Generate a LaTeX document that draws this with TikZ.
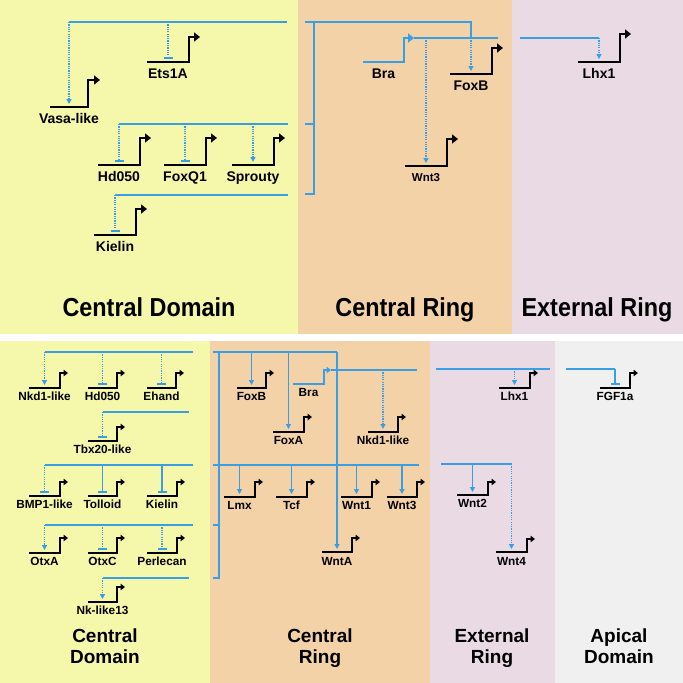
\documentclass[tikz,border=0pt]{standalone}
\usepackage{fontspec}
\usepackage{graphicx}
\setmainfont{Liberation Sans}
\usetikzlibrary{arrows.meta,calc}
\definecolor{bluC}{RGB}{58,158,228}
\definecolor{yelC}{RGB}{245,247,170}
\definecolor{oraC}{RGB}{244,210,168}
\definecolor{pinC}{RGB}{233,218,228}
\definecolor{graC}{RGB}{240,240,240}
\tikzset{
 bigG/.style={line width=2pt, black, -{Triangle[length=6pt,width=9pt]}},
 bigL/.style={anchor=base, inner sep=0pt, font=\bfseries\fontsize{14}{16}\selectfont},
 midG/.style={bigG},
 midL/.style={anchor=base, inner sep=0pt, font=\bfseries\fontsize{11.5}{13}\selectfont},
 smallG/.style={line width=1.6pt, black, -{Triangle[length=4.5pt,width=6.5pt]}},
 smallL/.style={anchor=base, inner sep=0pt, font=\bfseries\fontsize{11.8}{13}\selectfont},
 braBigG/.style={line width=2.3pt, bluC, -{Triangle[length=6pt,width=9pt]}},
 braBigL/.style={bigL},
 braSmallG/.style={line width=1.6pt, bluC, -{Triangle[length=4.5pt,width=6.5pt]}},
 braSmallL/.style={smallL},
 bl/.style={draw=bluC, line width=1.4pt},
 dotact/.style={draw=bluC, line width=1.3pt, dash pattern=on 1.2pt off 1.1pt, -{Triangle[length=5pt,width=5pt]}},
 dotrep/.style={draw=bluC, line width=1.3pt, dash pattern=on 1.2pt off 1.1pt, -{Bar[width=9pt,line width=1.6pt]}},
 solact/.style={draw=bluC, line width=1.3pt, -{Triangle[length=5pt,width=5pt]}},
 solrep/.style={draw=bluC, line width=1.3pt, -{Bar[width=9pt,line width=1.6pt]}},
 ttlA/.style={anchor=base, inner sep=0pt, font=\bfseries\fontsize{26}{30}\selectfont},
 ttlB/.style={anchor=base, inner sep=0pt, font=\bfseries\fontsize{19}{22}\selectfont},
}
% #1 name, #2 xl, #3 xr, #4 y, #5 promoter height, #6 kind, #7 label, #8 label offset, #9 arrow length
\newcommand\gene[9]{%
 \coordinate (#1-l) at (#2,#4);
 \coordinate (#1-r) at (#3,#4);
 \draw[#6G] (#1-l) -- (#1-r) -- ++(0,-#5) coordinate (#1-p) -- ++(#9,0) coordinate (#1-tip);
 \coordinate (#1-t) at ($(#1-l)!.5!(#1-r)+(0,-3)$);
 \node[#6L] (#1) at ($(#1-l)!.5!(#1-r)+(0,#8)$) {#7};
}
\begin{document}
\begin{tikzpicture}[x=1pt,y=-1pt]
\useasboundingbox (0,0) rectangle (683,683);
% backgrounds
\fill[white] (0,0) rectangle (683,683);
\fill[yelC] (0,0) rectangle (298,334);
\fill[oraC] (298,0) rectangle (512,334);
\fill[pinC] (512,0) rectangle (683,334);
\fill[yelC] (0,341) rectangle (210,683);
\fill[oraC] (210,341) rectangle (430,683);
\fill[pinC] (430,341) rectangle (555,683);
\fill[graC] (555,341) rectangle (683,683);

% ================= TOP PANEL =================
% Central domain
\coordinate (L1a) at (69,22); \coordinate (L1b) at (287,22);
\coordinate (L2a) at (119,124); \coordinate (L2b) at (288,124);
\coordinate (L3a) at (115,195); \coordinate (L3b) at (288,195);
\draw[bl] (L1a) -- (L1b);
\draw[bl] (L2a) -- (L2b);
\draw[bl] (L3a) -- (L3b);
\gene{Vasa}{50}{88}{107}{27}{big}{Vasa-like}{16}{12}
\gene{Ets}{147}{189}{62}{25}{big}{Ets1A}{16}{11}
\gene{HdT}{98}{140}{165}{27}{big}{Hd050}{16}{11}
\gene{FoxQ}{164}{206}{165}{27}{big}{FoxQ1}{16}{11}
\gene{Spr}{232}{274}{165}{27}{big}{Sprouty}{16}{11}
\gene{KielT}{94}{136}{235}{26}{big}{Kielin}{16}{11}
\draw[dotact] (Vasa-t |- L1a) -- (Vasa-t);
\draw[dotrep] (Ets-t |- L1a) -- (Ets-t);
\draw[dotrep] (HdT-t |- L2a) -- (HdT-t);
\draw[dotrep] (FoxQ-t |- L2a) -- (FoxQ-t);
\draw[dotact] (Spr-t |- L2a) -- (Spr-t);
\draw[dotrep] (KielT-t |- L3a) -- (KielT-t);

% Central ring
\coordinate (Bt1) at (305,22); \coordinate (Bv1) at (314,22);
\coordinate (Bt2) at (305,124); \coordinate (Bv2) at (314,124);
\coordinate (Bt3) at (305,194); \coordinate (Bv3) at (314,194);
\coordinate (Bc1) at (471,22); \coordinate (Bc2) at (471,38);
\draw[bl] (Bt1) -- (Bc1) -- (Bc2);
\draw[bl] (Bv1) -- (Bv3) -- (Bt3);
\draw[bl] (Bt2) -- (Bv2);
\gene{BraT}{363}{404}{62}{24}{braBig}{Bra}{16}{10}
\coordinate (BraOutT) at (498,38);
\draw[bl] (BraT-tip) -- (BraOutT);
\gene{FoxBT}{450}{492}{74}{26}{big}{FoxB}{16}{11}
\gene{Wnt3T}{405}{447}{166}{27}{mid}{Wnt3}{15}{11}
\draw[dotact] (Bc2) -- (FoxBT-t);
\draw[dotact] (Wnt3T-t |- BraOutT) -- (Wnt3T-t);

% External ring
\coordinate (Ea) at (520,38); \coordinate (Eb) at (599,38);
\draw[bl] (Ea) -- (Eb);
\gene{LhxT}{578}{620}{62}{28}{big}{Lhx1}{16}{11}
\draw[dotact] (Eb) -- (LhxT-t);

% titles
\node[ttlA] (tA1) at (149,316) {\scalebox{0.9}[1]{Central Domain}};
\node[ttlA] (tA2) at (405,316) {\scalebox{0.9}[1]{Central Ring}};
\node[ttlA] (tA3) at (597,316) {\scalebox{0.9}[1]{External Ring}};

% ================= BOTTOM PANEL =================
% Central domain
\coordinate (M1a) at (44.5,352); \coordinate (M1b) at (193,352);
\coordinate (M2a) at (102.5,412); \coordinate (M2b) at (189,412);
\coordinate (M3a) at (44.5,465); \coordinate (M3b) at (193,465);
\coordinate (M4a) at (44.5,525); \coordinate (M4b) at (193,525);
\coordinate (M5a) at (102.5,578); \coordinate (M5b) at (189,578);
\draw[bl] (M1a) -- (M1b);
\draw[bl] (M2a) -- (M2b);
\draw[bl] (M3a) -- (M3b);
\draw[bl] (M4a) -- (M4b);
\draw[bl] (M5a) -- (M5b);
\gene{Nkd}{29}{60}{388}{15}{small}{Nkd1-like}{12}{8}
\gene{HdB}{88}{117}{388}{15}{small}{Hd050}{12}{8}
\gene{Ehand}{147}{176}{388}{15}{small}{Ehand}{12}{8}
\gene{Tbx}{88}{117}{441}{14}{small}{Tbx20-like}{12}{8}
\gene{BMP}{29}{60}{496}{14}{small}{BMP1-like}{12}{8}
\gene{Toll}{88}{117}{496}{14}{small}{Tolloid}{12}{8}
\gene{KielB}{147}{177}{496}{14}{small}{Kielin}{12}{8}
\gene{OtxA}{29}{60}{553}{15}{small}{OtxA}{12}{8}
\gene{OtxC}{88}{117}{553}{15}{small}{OtxC}{12}{8}
\gene{Perl}{147}{177}{553}{15}{small}{Perlecan}{12}{8}
\gene{Nk}{88}{117}{602}{15}{small}{Nk-like13}{12}{8}
\draw[dotact] (M1a) -- (Nkd-t);
\draw[dotrep] (HdB-t |- M1a) -- (HdB-t);
\draw[dotrep] (Ehand-t |- M1a) -- (Ehand-t);
\draw[dotrep] (M2a) -- (Tbx-t);
\draw[dotrep] (M3a) -- (BMP-t);
\draw[solrep] (Toll-t |- M3a) -- (Toll-t);
\draw[solrep] (KielB-t |- M3a) -- (KielB-t);
\draw[dotact] (M4a) -- (OtxA-t);
\draw[dotrep] (OtxC-t |- M4a) -- (OtxC-t);
\draw[dotrep] (Perl-t |- M4a) -- (Perl-t);
\draw[dotact] (M5a) -- (Nk-t);

% Central ring
\coordinate (Ct1) at (213,352); \coordinate (Cv1) at (219,352);
\coordinate (Ct2) at (213,465); \coordinate (Ce2) at (419,465);
\coordinate (Ct3) at (213,525); \coordinate (Cv3) at (219,525);
\coordinate (Ct4) at (213,578); \coordinate (Cv4) at (219,578);
\coordinate (Cc1) at (337,352);
\draw[bl] (Ct1) -- (Cc1);
\draw[bl] (Cv1) -- (Cv4) -- (Ct4);
\draw[bl] (Ct2) -- (Ce2);
\draw[bl] (Ct3) -- (Cv3);
\gene{FoxBB}{237}{266}{388}{15}{small}{FoxB}{12}{8}
\gene{FoxA}{273}{304}{432}{15}{small}{FoxA}{12}{8}
\gene{BraB}{293}{324}{384}{14}{braSmall}{Bra}{12}{7}
\coordinate (BraOutB) at (417,370);
\draw[bl] (BraB-tip) -- (BraOutB);
\gene{NkdB}{368}{398}{432}{15}{small}{Nkd1-like}{12}{8}
\gene{Lmx}{224}{255}{497}{15}{small}{Lmx}{12}{8}
\gene{Tcf}{276}{307}{497}{15}{small}{Tcf}{12}{8}
\gene{WntOne}{341}{372}{497}{15}{small}{Wnt1}{12}{8}
\gene{WntThr}{387}{417}{497}{15}{small}{Wnt3}{12}{8}
\gene{WntA}{322}{352}{552}{14}{small}{WntA}{13}{8}
\draw[solact] (FoxBB-t |- Ct1) -- (FoxBB-t);
\draw[solact] (FoxA-t |- Ct1) -- (FoxA-t);
\draw[solact] (Cc1) -- (WntA-t);
\draw[dotact] (NkdB-t |- BraOutB) -- (NkdB-t);
\draw[solact] (Lmx-t |- Ct2) -- (Lmx-t);
\draw[solact] (Tcf-t |- Ct2) -- (Tcf-t);
\draw[solact] (WntOne-t |- Ct2) -- (WntOne-t);
\draw[solact] (WntThr-t |- Ct2) -- (WntThr-t);

% External ring
\coordinate (Xa) at (436,369); \coordinate (Xb) at (550,369);
\draw[bl] (Xa) -- (Xb);
\gene{LhxB}{499}{530}{388}{15}{small}{Lhx1}{12}{8}
\draw[dotact] (LhxB-t |- Xa) -- (LhxB-t);
\coordinate (Ya) at (441,464); \coordinate (Yb) at (511.5,464);
\draw[bl] (Ya) -- (Yb);
\gene{WntTwo}{457}{488}{495}{13}{small}{Wnt2}{12}{8}
\gene{WntFour}{496}{527}{552}{13}{small}{Wnt4}{13}{8}
\draw[solact] (WntTwo-t |- Ya) -- (WntTwo-t);
\draw[dotact] (Yb) -- (WntFour-t);

% Apical domain
\coordinate (Za) at (566,369); \coordinate (Zb) at (615,369);
\gene{FGF}{600}{630}{388}{15}{small}{FGF1a}{12}{8}
\draw[bl] (Za) -- (Zb);
\draw[solrep] (Zb) -- (FGF-t);

% titles
\node[ttlB] (tB1a) at (105,642) {Central};
\node[ttlB] (tB1b) at (105,663) {Domain};
\node[ttlB] (tB2a) at (320,642) {Central};
\node[ttlB] (tB2b) at (320,663) {Ring};
\node[ttlB] (tB3a) at (492,642) {External};
\node[ttlB] (tB3b) at (492,663) {Ring};
\node[ttlB] (tB4a) at (619,642) {Apical};
\node[ttlB] (tB4b) at (619,663) {Domain};
\end{tikzpicture}
\end{document}
